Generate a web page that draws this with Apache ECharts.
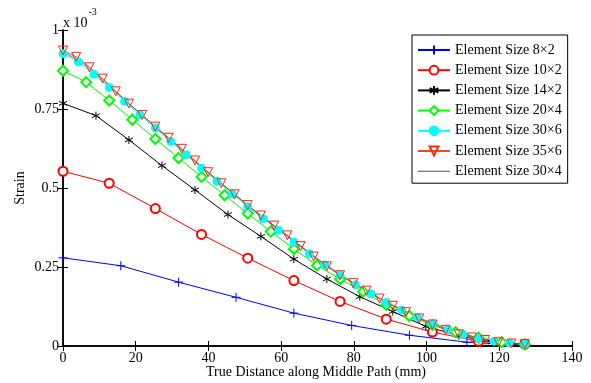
<!DOCTYPE html>
<html>
<head>
<meta charset="utf-8">
<script src="https://cdn.jsdelivr.net/npm/echarts@6/dist/echarts.min.js"></script>
<style>
html,body{margin:0;padding:0;background:#fff;}
#chart{width:591px;height:383px;}
</style>
</head>
<body>
<div id="chart"></div>
<script>
// Data (strain in units of 1e-3)
const xTicks = [0, 20, 40, 60, 80, 100, 120, 140];
const yTicks = [0, 0.25, 0.5, 0.75, 1];

const names = ['Element Size 8×2','Element Size 10×2','Element Size 14×2','Element Size 20×4','Element Size 30×6','Element Size 35×6','Element Size 30×4'];

const x8x2 = [0,15.9,31.8,47.6,63.5,79.4,95.3,111.1,127];
const y8x2 = [0.279,0.254,0.202,0.154,0.104,0.065,0.034,0.012,0.002];

const x10x2 = [0,12.7,25.4,38.1,50.8,63.5,76.2,88.9,101.6,114.3,127];
const y10x2 = [0.553,0.515,0.435,0.353,0.278,0.207,0.141,0.085,0.044,0.015,0.006];

const x14x2 = [0,9.07,18.14,27.21,36.29,45.36,54.43,63.5,72.57,81.64,90.71,99.79,108.86,117.93,127];
const y14x2 = [0.768,0.729,0.652,0.571,0.494,0.416,0.347,0.275,0.212,0.156,0.109,0.062,0.033,0.012,0.004];

const x20x4 = [0,6.35,12.7,19.05,25.4,31.75,38.1,44.45,50.8,57.15,63.5,69.85,76.2,82.55,88.9,95.25,101.6,107.95,114.3,120.65,127];
const y20x4 = [0.871,0.835,0.777,0.716,0.655,0.595,0.535,0.477,0.419,0.362,0.307,0.255,0.212,0.172,0.13,0.095,0.067,0.044,0.026,0.012,0.005];

const x30x6 = [0,4.23,8.47,12.7,16.93,21.17,25.4,29.63,33.87,38.1,42.33,46.57,50.8,55.03,59.27,63.5,67.73,71.97,76.2,80.43,84.67,88.9,93.13,97.37,101.6,105.83,110.07,114.3,118.53,122.77,127];
const y30x6 = [0.925,0.899,0.86,0.818,0.774,0.731,0.69,0.647,0.605,0.563,0.521,0.481,0.441,0.403,0.366,0.329,0.292,0.257,0.224,0.194,0.165,0.138,0.114,0.091,0.07,0.052,0.036,0.024,0.015,0.009,0.006];

const x35x6 = [0,3.63,7.26,10.89,14.51,18.14,21.77,25.4,29.03,32.66,36.29,39.91,43.54,47.17,50.8,54.43,58.06,61.69,65.31,68.94,72.57,76.2,79.83,83.46,87.09,90.71,94.34,97.97,101.6,105.23,108.86,112.49,116.11,119.74,123.37,127];
const y35x6 = [0.935,0.915,0.882,0.846,0.806,0.767,0.731,0.694,0.659,0.624,0.587,0.55,0.515,0.48,0.446,0.413,0.381,0.35,0.316,0.283,0.252,0.224,0.199,0.175,0.15,0.127,0.107,0.087,0.068,0.051,0.037,0.027,0.019,0.012,0.008,0.006];

const x30x4 = [0,4.23,8.47,12.7,16.93,21.17,25.4,29.63,33.87,38.1,42.33,46.57,50.8,55.03,59.27,63.5,67.73,71.97,76.2,80.43,84.67,88.9,93.13,97.37,101.6,105.83,110.07,114.3,118.53,122.77,127];
const y30x4 = [0.93,0.905,0.866,0.823,0.779,0.736,0.694,0.651,0.609,0.567,0.525,0.485,0.445,0.407,0.37,0.333,0.296,0.26,0.227,0.196,0.167,0.14,0.116,0.093,0.072,0.054,0.038,0.025,0.016,0.01,0.006];

const xTitle = 'True Distance along Middle Path (mm)';
const yTitle = 'Strain';

const pairs = (xs, ys) => xs.map((x, i) => [x, ys[i]]);

const FONT = 'Liberation Serif';
const FS = 14;
const PLUS = 'path://M5,0L5,10M0,5L10,5';
const STAR = 'path://M5,0L5,10M0.67,2.5L9.33,7.5M0.67,7.5L9.33,2.5';
const TRI_DOWN = 'path://M0,0L10,0L5,8.66Z';
const THIN_LINE = 'path://M0,0L32,0L32,0.8L0,0.8Z';

function lineSeries(name, data, color, symbol, size, opts) {
  return Object.assign({
    name: name,
    type: 'line',
    data: data,
    xAxisIndex: 0,
    yAxisIndex: 0,
    symbol: symbol,
    symbolSize: size,
    showSymbol: symbol !== 'none',
    lineStyle: { color: color, width: 1 },
    itemStyle: { color: color, borderColor: color, borderWidth: 1 },
    emphasis: { disabled: true },
    animation: false,
    z: 2
  }, opts || {});
}

const chart = echarts.init(document.getElementById('chart'), null, { renderer: 'canvas' });

const axisCommon = {
  min: 0,
  axisLine: { show: true, lineStyle: { color: '#000', width: 1.5 } },
  axisTick: { show: true, inside: true, length: 5, lineStyle: { color: '#000', width: 1 } },
  splitLine: { show: false },
};

const legendData = names.map((n, i) => i === 6 ? { name: n, icon: THIN_LINE, itemStyle: { color: '#222222' } } : n);

chart.setOption({
  backgroundColor: '#fff',
  animation: false,
  textStyle: { fontFamily: FONT },
  grid: { left: 63, right: 19, top: 30, bottom: 37, containLabel: false },
  xAxis: [
    Object.assign({}, axisCommon, {
      type: 'value', max: 140, interval: 20, position: 'bottom',
      axisLabel: { color: '#000', fontFamily: FONT, fontSize: FS, margin: 5 }
    }),
    Object.assign({}, axisCommon, {
      type: 'value', max: 140, interval: 20, position: 'top',
      axisLabel: { show: false }
    })
  ],
  yAxis: [
    Object.assign({}, axisCommon, {
      type: 'value', max: 1, interval: 0.25, position: 'left',
      axisLabel: { color: '#000', fontFamily: FONT, fontSize: FS, margin: 4 }
    }),
    Object.assign({}, axisCommon, {
      type: 'value', max: 1, interval: 0.25, position: 'right',
      axisLabel: { show: false }
    })
  ],
  legend: {
    data: legendData,
    orient: 'vertical',
    left: 412, top: 35,
    padding: [8, 6, 5, 5],
    itemWidth: 32, itemHeight: 11, itemGap: 6.2,
    backgroundColor: '#fff',
    borderColor: '#000', borderWidth: 1,
    textStyle: { color: '#000', fontFamily: FONT, fontSize: FS },
    selectedMode: false
  },
  graphic: [{
    type: 'text',
    left: 63, top: 7,
    style: {
      text: '{a|x 10}{b|-3}',
      rich: {
        a: { fontFamily: FONT, fontSize: FS, fill: '#000', verticalAlign: 'bottom', padding: [9, 0, 0, 0] },
        b: { fontFamily: FONT, fontSize: 10, fill: '#000', verticalAlign: 'top', padding: [0, 0, 8, 1] }
      }
    }
  }, {
    type: 'text',
    x: 316, y: 372,
    style: { text: xTitle, fontFamily: FONT, fontSize: FS, fill: '#000', align: 'center', verticalAlign: 'middle' }
  }, {
    type: 'text',
    x: 20, y: 188, rotation: Math.PI / 2,
    style: { text: yTitle, fontFamily: FONT, fontSize: FS, fill: '#000', align: 'center', verticalAlign: 'middle' }
  }],
  series: [
    lineSeries(names[0], pairs(x8x2, y8x2), '#0000ff', PLUS, 9),
    lineSeries(names[1], pairs(x10x2, y10x2), '#ff0000', 'emptyCircle', 9),
    lineSeries(names[2], pairs(x14x2, y14x2), '#000000', STAR, 8),
    lineSeries(names[3], pairs(x20x4, y20x4), '#00ff00', 'emptyDiamond', 10),
    lineSeries(names[4], pairs(x30x6, y30x6), '#00ffff', 'circle', 8),
    lineSeries(names[5], pairs(x35x6, y35x6), '#f24a1e', TRI_DOWN, 9,
      { itemStyle: { color: 'rgba(255,255,255,0)', borderColor: '#ff2a10', borderWidth: 1 } }),
    lineSeries(names[6], pairs(x30x4, y30x4), '#333333', 'none', 0,
      { lineStyle: { color: '#333333', width: 0.6 }, itemStyle: { color: '#333333' } })
  ]
});
</script>
</body>
</html>
